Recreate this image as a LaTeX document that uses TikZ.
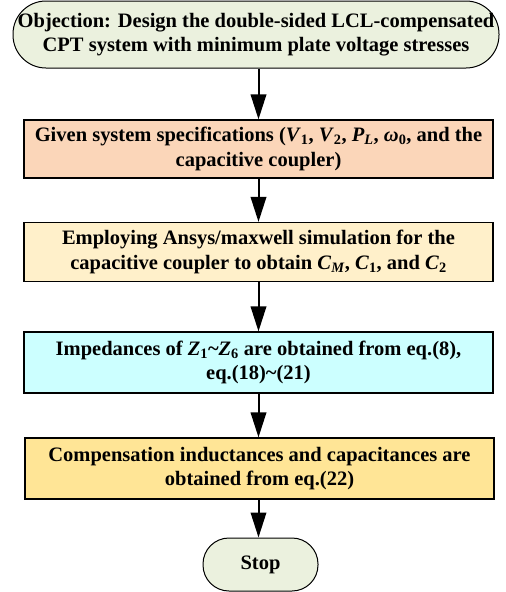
\documentclass[tikz,border=0pt]{standalone}
\usepackage{fontspec}
\setmainfont{Liberation Serif}
\usetikzlibrary{arrows.meta}
\definecolor{termfill}{HTML}{EBF1DE}
\definecolor{peach}{HTML}{FBD6B9}
\definecolor{lightyel}{HTML}{FFF0CA}
\definecolor{lightcyan}{HTML}{CCFFFF}
\definecolor{gold}{HTML}{FFE596}
\newcommand\mysub[1]{\textsubscript{#1}}
\begin{document}
\begin{tikzpicture}[x=1pt,y=-1pt,
  every node/.style={font=\fontsize{20.5}{24.5}\selectfont\bfseries, align=center, inner sep=0pt},
  term/.style={draw=black, line width=1pt, fill=termfill, rounded corners=26pt},
  procbox/.style={draw=black, line width=1.2pt, minimum width=469pt},
  flowarrow/.style={line width=2pt, -{Triangle[width=15.5pt,length=25pt]}}]
\useasboundingbox (0,0) rectangle (506,592);
\node[term, minimum width=486pt, minimum height=67pt, rounded corners=33pt] (obj) at (256,34.5)
  {Objection: Design the double-sided LCL-compensated\\CPT system with minimum plate voltage stresses};
\node[procbox, fill=peach, minimum height=58pt] (b2) at (258.5,149)
  {Given system specifications (\textit{V}\mysub{1}, \textit{V}\mysub{2}, \textit{P}\mysub{\textit{L}}, \textit{ω}\mysub{0}, and the\\capacitive coupler)};
\node[procbox, fill=lightyel, minimum height=59pt] (b3) at (258.5,252)
  {Employing Ansys/maxwell simulation for the\\capacitive coupler to obtain \textit{C}\mysub{\textit{M}}, \textit{C}\mysub{1}, and \textit{C}\mysub{2}};
\node[procbox, fill=lightcyan, minimum height=61pt] (b4) at (258.5,362.5)
  {Impedances of \textit{Z}\mysub{1}\textasciitilde\textit{Z}\mysub{6} are obtained from eq.(8),\\eq.(18)\textasciitilde(21)};
\node[procbox, fill=gold, minimum height=61pt] (b5) at (259.5,468.5)
  {Compensation inductances and capacitances are\\obtained from eq.(22)};
\node[term, minimum width=115pt, minimum height=53pt] (stop) at (260.5,564.5) {Stop};
\draw[flowarrow] (obj.south -| b2.north) -- (b2.north);
\draw[flowarrow] (b2.south) -- (b3.north);
\draw[flowarrow] (b3.south) -- (b4.north);
\draw[flowarrow] (b4.south) -- (b4.south |- b5.north);
\draw[flowarrow] (b5.south -| b4.south) -- (b4.south |- stop.north);
\end{tikzpicture}
\end{document}
